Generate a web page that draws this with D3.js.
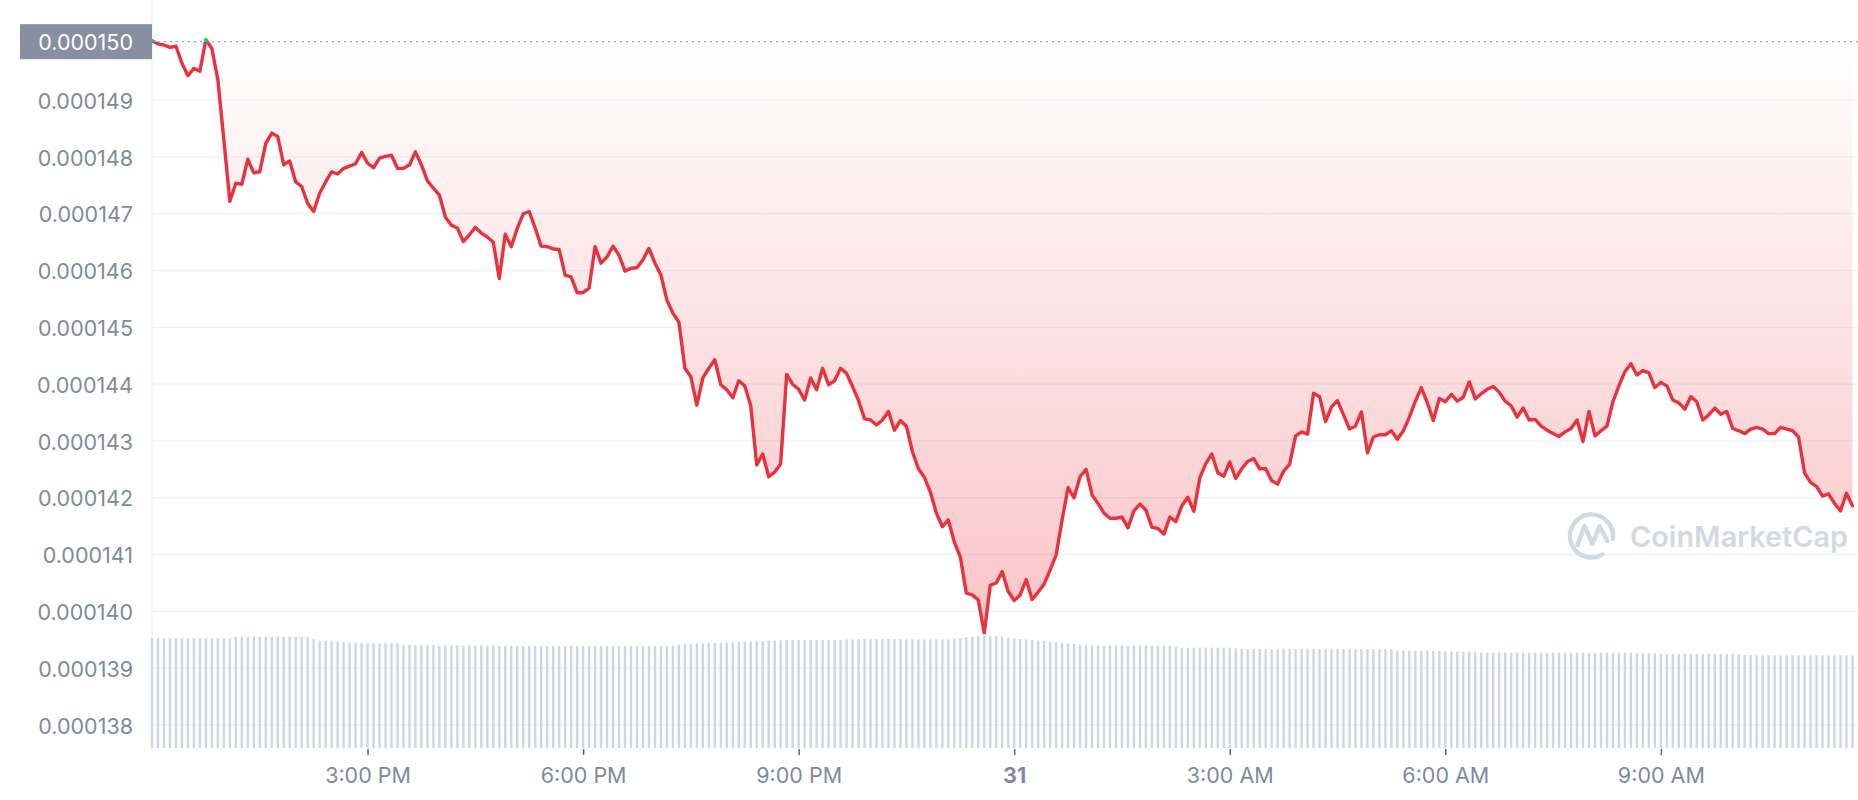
<!DOCTYPE html>
<html>
<head>
<meta charset="utf-8">
<script src="https://cdn.jsdelivr.net/npm/d3@7"></script>
<style>
  html, body { margin: 0; padding: 0; background: #ffffff; overflow: hidden; }
  svg { display: block; font-family: Inter, "Noto Sans", "DejaVu Sans", sans-serif; }
</style>
</head>
<body>
<svg id="chart" width="1858" height="800"></svg>
<script>
// ---------------- DATA ----------------
const startTime = new Date(2023, 0, 30, 12, 0, 0); // 12:00 PM, day 30
const stepMinutes = 5;
const openPrice = 1.5002e-4;
const openLabel = "0.000150";

const prices = [
  1.5004e-4, 1.4998e-4, 1.4996e-4, 1.4992e-4, 1.4994e-4, 1.4964e-4, 1.4942e-4, 1.4955e-4, 1.4950e-4, 1.5006e-4,
  1.4990e-4, 1.4935e-4, 1.4829e-4, 1.4721e-4, 1.4753e-4, 1.4751e-4, 1.4795e-4, 1.4771e-4, 1.4773e-4, 1.4823e-4,
  1.4841e-4, 1.4835e-4, 1.4785e-4, 1.4792e-4, 1.4755e-4, 1.4747e-4, 1.4717e-4, 1.4703e-4, 1.4735e-4, 1.4755e-4,
  1.4773e-4, 1.4769e-4, 1.4779e-4, 1.4783e-4, 1.4787e-4, 1.4807e-4, 1.4788e-4, 1.4780e-4, 1.4797e-4, 1.4800e-4,
  1.4802e-4, 1.4779e-4, 1.4779e-4, 1.4785e-4, 1.4808e-4, 1.4785e-4, 1.4757e-4, 1.4744e-4, 1.4732e-4, 1.4693e-4,
  1.4679e-4, 1.4674e-4, 1.4650e-4, 1.4662e-4, 1.4675e-4, 1.4665e-4, 1.4658e-4, 1.4649e-4, 1.4585e-4, 1.4663e-4,
  1.4641e-4, 1.4673e-4, 1.4699e-4, 1.4703e-4, 1.4674e-4, 1.4642e-4, 1.4641e-4, 1.4637e-4, 1.4636e-4, 1.4591e-4,
  1.4588e-4, 1.4560e-4, 1.4560e-4, 1.4568e-4, 1.4641e-4, 1.4612e-4, 1.4623e-4, 1.4642e-4, 1.4626e-4, 1.4598e-4,
  1.4603e-4, 1.4604e-4, 1.4618e-4, 1.4638e-4, 1.4612e-4, 1.4591e-4, 1.4547e-4, 1.4524e-4, 1.4508e-4, 1.4427e-4,
  1.4412e-4, 1.4362e-4, 1.4410e-4, 1.4427e-4, 1.4442e-4, 1.4398e-4, 1.4389e-4, 1.4375e-4, 1.4405e-4, 1.4396e-4,
  1.4361e-4, 1.4257e-4, 1.4276e-4, 1.4236e-4, 1.4244e-4, 1.4259e-4, 1.4416e-4, 1.4399e-4, 1.4390e-4, 1.4371e-4,
  1.4410e-4, 1.4389e-4, 1.4427e-4, 1.4398e-4, 1.4405e-4, 1.4427e-4, 1.4418e-4, 1.4395e-4, 1.4370e-4, 1.4338e-4,
  1.4336e-4, 1.4327e-4, 1.4336e-4, 1.4351e-4, 1.4318e-4, 1.4335e-4, 1.4325e-4, 1.4280e-4, 1.4250e-4, 1.4235e-4,
  1.4209e-4, 1.4172e-4, 1.4148e-4, 1.4160e-4, 1.4121e-4, 1.4095e-4, 1.4031e-4, 1.4028e-4, 1.4019e-4, 1.3961e-4,
  1.4045e-4, 1.4049e-4, 1.4069e-4, 1.4034e-4, 1.4018e-4, 1.4028e-4, 1.4055e-4, 1.4020e-4, 1.4033e-4, 1.4047e-4,
  1.4072e-4, 1.4098e-4, 1.4160e-4, 1.4217e-4, 1.4199e-4, 1.4236e-4, 1.4249e-4, 1.4204e-4, 1.4189e-4, 1.4172e-4,
  1.4163e-4, 1.4163e-4, 1.4165e-4, 1.4146e-4, 1.4176e-4, 1.4188e-4, 1.4177e-4, 1.4147e-4, 1.4145e-4, 1.4135e-4,
  1.4165e-4, 1.4157e-4, 1.4185e-4, 1.4200e-4, 1.4175e-4, 1.4234e-4, 1.4259e-4, 1.4276e-4, 1.4243e-4, 1.4237e-4,
  1.4262e-4, 1.4233e-4, 1.4250e-4, 1.4263e-4, 1.4268e-4, 1.4250e-4, 1.4250e-4, 1.4229e-4, 1.4223e-4, 1.4246e-4,
  1.4258e-4, 1.4308e-4, 1.4315e-4, 1.4311e-4, 1.4383e-4, 1.4377e-4, 1.4333e-4, 1.4359e-4, 1.4370e-4, 1.4345e-4,
  1.4320e-4, 1.4325e-4, 1.4350e-4, 1.4278e-4, 1.4306e-4, 1.4310e-4, 1.4310e-4, 1.4317e-4, 1.4302e-4, 1.4317e-4,
  1.4341e-4, 1.4369e-4, 1.4393e-4, 1.4366e-4, 1.4335e-4, 1.4374e-4, 1.4368e-4, 1.4381e-4, 1.4369e-4, 1.4376e-4,
  1.4403e-4, 1.4373e-4, 1.4382e-4, 1.4390e-4, 1.4395e-4, 1.4385e-4, 1.4369e-4, 1.4361e-4, 1.4341e-4, 1.4357e-4,
  1.4336e-4, 1.4337e-4, 1.4325e-4, 1.4318e-4, 1.4312e-4, 1.4307e-4, 1.4315e-4, 1.4321e-4, 1.4336e-4, 1.4298e-4,
  1.4351e-4, 1.4308e-4, 1.4317e-4, 1.4325e-4, 1.4368e-4, 1.4396e-4, 1.4421e-4, 1.4435e-4, 1.4415e-4, 1.4423e-4,
  1.4419e-4, 1.4393e-4, 1.4402e-4, 1.4396e-4, 1.4371e-4, 1.4366e-4, 1.4355e-4, 1.4377e-4, 1.4368e-4, 1.4336e-4,
  1.4345e-4, 1.4357e-4, 1.4346e-4, 1.4351e-4, 1.4321e-4, 1.4317e-4, 1.4312e-4, 1.4320e-4, 1.4323e-4, 1.4320e-4,
  1.4312e-4, 1.4312e-4, 1.4323e-4, 1.4320e-4, 1.4317e-4, 1.4306e-4, 1.4243e-4, 1.4226e-4, 1.4219e-4, 1.4202e-4,
  1.4206e-4, 1.4189e-4, 1.4176e-4, 1.4207e-4, 1.4185e-4
];

// 24h volume (USD millions), one bar per 5-minute point
const volumes = [
  10.97, 10.97, 10.97, 10.97, 10.97, 10.97, 10.97, 10.97, 10.97, 10.97, 10.97, 10.97, 10.97, 10.97,
  11.13, 11.13, 11.13, 11.13, 11.13, 11.13, 11.13, 11.13, 11.13, 11.13, 11.13, 11.13,
  11.10, 10.90, 10.75, 10.72, 10.70, 10.65, 10.60, 10.55, 10.52, 10.50,
  10.47, 10.47, 10.47, 10.47, 10.47, 10.47,
  10.30, 10.30, 10.30, 10.30, 10.30, 10.30,
  10.25, 10.25, 10.25, 10.25, 10.25, 10.25, 10.25, 10.25, 10.25, 10.25,
  10.20, 10.20, 10.20, 10.20, 10.20, 10.20, 10.20, 10.20, 10.20, 10.20,
  10.20, 10.20, 10.20, 10.20, 10.20, 10.20, 10.20, 10.20, 10.20, 10.20,
  10.20, 10.20, 10.20, 10.20, 10.20, 10.20, 10.20, 10.20, 10.20,
  10.27, 10.32, 10.37,
  10.40, 10.43, 10.45, 10.48, 10.50, 10.53, 10.55,
  10.57,
  10.60, 10.62, 10.65, 10.68, 10.70,
  10.73,
  10.75, 10.77, 10.78, 10.80,
  10.80, 10.80, 10.80, 10.80, 10.80, 10.80, 10.80,
  10.82, 10.85, 10.87, 10.88,
  10.90, 10.90, 10.90, 10.90, 10.90, 10.90, 10.90,
  10.87, 10.87, 10.87, 10.87, 10.87, 10.87, 10.87, 10.87,
  10.95, 11.00, 11.07, 11.12, 11.17,
  11.20, 11.20, 11.20,
  11.10, 11.03, 10.97, 10.90, 10.85, 10.80,
  10.75, 10.70, 10.62, 10.57, 10.52, 10.47,
  10.40, 10.35, 10.30, 10.25,
  10.23, 10.23, 10.23, 10.23, 10.23, 10.23, 10.23, 10.23, 10.23, 10.23, 10.23, 10.23, 10.23,
  10.12,
  10.03, 10.03, 10.03, 10.03, 10.03, 10.03, 10.03, 10.03, 10.03,
  9.97, 9.93,
  9.90, 9.90, 9.90, 9.90, 9.90, 9.90, 9.90, 9.90, 9.90, 9.90,
  9.90, 9.90, 9.90, 9.90, 9.90, 9.90, 9.90, 9.90, 9.90, 9.90,
  9.90, 9.90, 9.90, 9.90, 9.90,
  9.73, 9.73, 9.73, 9.73, 9.73, 9.73, 9.73,
  9.70, 9.68, 9.66, 9.64, 9.62, 9.60, 9.58, 9.56, 9.55, 9.54,
  9.53, 9.53, 9.53, 9.53, 9.53, 9.53, 9.53, 9.53, 9.53, 9.53,
  9.53, 9.53, 9.53, 9.53, 9.53, 9.53, 9.53, 9.53, 9.53, 9.53,
  9.53, 9.53, 9.53,
  9.50, 9.48, 9.46, 9.44, 9.42,
  9.40, 9.40, 9.40, 9.40, 9.40, 9.40, 9.40, 9.40, 9.40, 9.40, 9.40, 9.40,
  9.36, 9.33, 9.30, 9.28,
  9.27, 9.27, 9.27, 9.27, 9.27, 9.27, 9.27, 9.27, 9.27, 9.27, 9.27, 9.27, 9.27, 9.27, 9.27, 9.27
];

const yTickValues = [1.38e-4, 1.39e-4, 1.40e-4, 1.41e-4, 1.42e-4, 1.43e-4, 1.44e-4, 1.45e-4, 1.46e-4, 1.47e-4, 1.48e-4, 1.49e-4];
const xTickTimes = [
  new Date(2023, 0, 30, 15), new Date(2023, 0, 30, 18), new Date(2023, 0, 30, 21),
  new Date(2023, 0, 31, 0), new Date(2023, 0, 31, 3), new Date(2023, 0, 31, 6), new Date(2023, 0, 31, 9)
];
const xTickLabels = ["3:00 PM", "6:00 PM", "9:00 PM", "31", "3:00 AM", "6:00 AM", "9:00 AM"];

// ---------------- CHART ----------------
const W = 1858, H = 800;
const plotLeft = 152, plotRight = 1858;
const svg = d3.select("#chart");

const data = prices.map((p, i) => ({
  t: new Date(startTime.getTime() + i * stepMinutes * 60000),
  p: p,
  v: volumes[i]
}));

const x = d3.scaleTime()
  .domain([startTime, new Date(startTime.getTime() + 24 * 3600000)])
  .range([152, 152 + 24 * 71.85]);
const y = d3.scaleLinear().domain([1.38e-4, 1.49e-4]).range([724.4, 99.6]);
const yV = d3.scaleLinear().domain([0, 12]).range([748, 628]);

const defs = svg.append("defs");
const yOpen = y(openPrice);
const yMin = y(d3.min(prices));

const gradRed = defs.append("linearGradient").attr("id", "gradRed")
  .attr("gradientUnits", "userSpaceOnUse").attr("x1", 0).attr("x2", 0).attr("y1", yOpen).attr("y2", yMin);
gradRed.append("stop").attr("offset", "0%").attr("stop-color", "#ea3943").attr("stop-opacity", 0);
gradRed.append("stop").attr("offset", "100%").attr("stop-color", "#ea3943").attr("stop-opacity", 0.3);

const gradGreen = defs.append("linearGradient").attr("id", "gradGreen")
  .attr("gradientUnits", "userSpaceOnUse").attr("x1", 0).attr("x2", 0).attr("y1", yOpen).attr("y2", 0);
gradGreen.append("stop").attr("offset", "0%").attr("stop-color", "#16c784").attr("stop-opacity", 0);
gradGreen.append("stop").attr("offset", "100%").attr("stop-color", "#16c784").attr("stop-opacity", 0.3);

defs.append("clipPath").attr("id", "clipBelow").append("rect")
  .attr("x", 0).attr("y", yOpen).attr("width", W).attr("height", H - yOpen);
defs.append("clipPath").attr("id", "clipAbove").append("rect")
  .attr("x", 0).attr("y", 0).attr("width", W).attr("height", yOpen);

// gridlines
svg.append("g")
  .attr("transform", `translate(${plotLeft},0)`)
  .call(d3.axisRight(y).tickValues(yTickValues).tickSize(plotRight - plotLeft).tickFormat(""))
  .call(g => g.select(".domain").remove())
  .call(g => g.selectAll(".tick line").attr("stroke", "#eff2f5").attr("stroke-width", 1.3));

// left border line
svg.append("line")
  .attr("x1", plotLeft).attr("x2", plotLeft).attr("y1", 0).attr("y2", 750)
  .attr("stroke", "#eff2f5").attr("stroke-width", 1.5);

// volume bars
svg.append("g").selectAll("rect").data(data).join("rect")
  .attr("x", d => x(d.t) - 1.2)
  .attr("width", 2.4)
  .attr("y", d => yV(d.v))
  .attr("height", d => yV(0) - yV(d.v))
  .attr("fill", "#cfd5e3");

// areas
const area = d3.area().x(d => x(d.t)).y0(yOpen).y1(d => y(d.p));
svg.append("path").datum(data).attr("d", area)
  .attr("fill", "url(#gradRed)").attr("clip-path", "url(#clipBelow)");
svg.append("path").datum(data).attr("d", area)
  .attr("fill", "url(#gradGreen)").attr("clip-path", "url(#clipAbove)");

// open price dotted line
svg.append("line")
  .attr("x1", plotLeft).attr("x2", plotRight).attr("y1", yOpen).attr("y2", yOpen)
  .attr("stroke", "#a1a7b5").attr("stroke-width", 1.3).attr("stroke-dasharray", "2 4");

// price line
const line = d3.line().x(d => x(d.t)).y(d => y(d.p));
svg.append("path").datum(data).attr("d", line)
  .attr("fill", "none").attr("stroke", "#e8333f").attr("stroke-width", 3.4)
  .attr("stroke-linejoin", "round").attr("stroke-linecap", "round")
  .attr("clip-path", "url(#clipBelow)");
svg.append("path").datum(data).attr("d", line)
  .attr("fill", "none").attr("stroke", "#16c784").attr("stroke-width", 3.4)
  .attr("stroke-linejoin", "round").attr("stroke-linecap", "round")
  .attr("clip-path", "url(#clipAbove)");

// y axis labels
svg.append("g")
  .attr("transform", `translate(${plotLeft},0)`)
  .call(d3.axisLeft(y).tickValues(yTickValues).tickSize(0).tickPadding(19).tickFormat(d3.format(".6f")))
  .call(g => g.select(".domain").remove())
  .call(g => g.selectAll(".tick text")
    .attr("fill", "#808a9d").attr("font-size", 21.5).attr("dy", "0.4em")
    .attr("font-family", "Inter, 'Noto Sans', sans-serif"));

// open price label
svg.append("rect")
  .attr("x", 20).attr("y", yOpen - 17.5).attr("width", plotLeft - 20).attr("height", 35)
  .attr("fill", "#878fa0");
svg.append("text")
  .attr("x", 133).attr("y", yOpen).attr("dy", "0.4em")
  .attr("text-anchor", "end").attr("fill", "#ffffff").attr("font-size", 21.5)
  .text(openLabel);

// x axis
svg.append("g")
  .attr("transform", "translate(0,749)")
  .call(d3.axisBottom(x).tickValues(xTickTimes).tickSize(6).tickPadding(13)
    .tickFormat((d, i) => xTickLabels[i]))
  .call(g => g.select(".domain").remove())
  .call(g => g.selectAll(".tick line").attr("stroke", "#58667e").attr("stroke-width", 1.5))
  .call(g => g.selectAll(".tick text")
    .attr("fill", "#808a9d").attr("font-size", 21.5)
    .attr("font-family", "Inter, 'Noto Sans', sans-serif")
    .attr("font-weight", (d, i) => xTickLabels[i] === "31" ? 700 : 400));

// watermark
const wm = svg.append("g").attr("fill", "none").attr("stroke", "#d3d8e1").attr("stroke-width", 4.5)
  .attr("stroke-linecap", "round").attr("stroke-linejoin", "round");
const cx = 1591.5, cy = 536, r = 21.5;
wm.append("path").attr("d", d3.arc()({innerRadius: r, outerRadius: r, startAngle: 2.6, endAngle: 2.6 + 2 * Math.PI - 0.9}))
  .attr("transform", `translate(${cx},${cy})`);
wm.append("path").attr("d", `M${cx - 14},${cy + 9} L${cx - 7},${cy - 10} L${cx + 1},${cy + 8} L${cx + 8},${cy - 10} L${cx + 16},${cy + 5}`);
svg.append("text")
  .attr("x", 1630).attr("y", 547)
  .attr("font-size", 29).attr("font-weight", 600).attr("fill", "#d3d8e1")
  .attr("textLength", 218).attr("lengthAdjust", "spacingAndGlyphs")
  .text("CoinMarketCap");
</script>
</body>
</html>
